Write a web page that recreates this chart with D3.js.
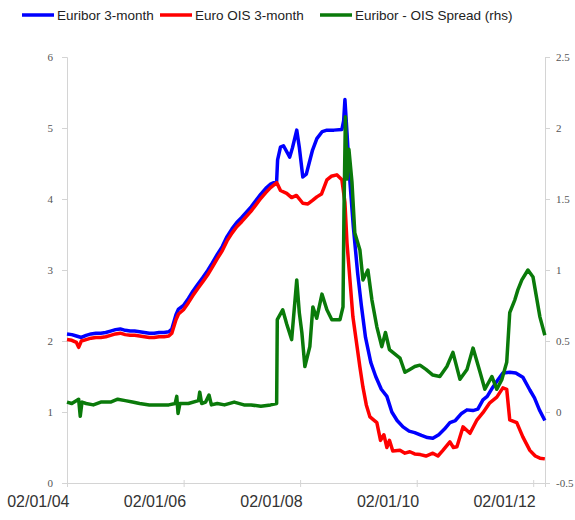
<!DOCTYPE html>
<html>
<head>
<meta charset="utf-8">
<script src="https://cdn.jsdelivr.net/npm/d3@7/dist/d3.min.js"></script>
<style>
  body { margin: 0; background: #fff; }
</style>
</head>
<body>
<div id="chart"></div>
<script>
// Euribor 3-month (lhs), %
var euribor = [
  ['2004-01-02', 2.10], ['2004-02-01', 2.09], ['2004-03-01', 2.07], ['2004-04-01', 2.05],
  ['2004-05-01', 2.08], ['2004-06-01', 2.10], ['2004-07-01', 2.11], ['2004-08-01', 2.11],
  ['2004-09-01', 2.12], ['2004-10-01', 2.14], ['2004-11-01', 2.16], ['2004-12-01', 2.17],
  ['2005-01-01', 2.15], ['2005-02-01', 2.14], ['2005-03-01', 2.14], ['2005-04-01', 2.13],
  ['2005-05-01', 2.12], ['2005-06-01', 2.11], ['2005-07-01', 2.11], ['2005-08-01', 2.12],
  ['2005-09-01', 2.12], ['2005-10-01', 2.13], ['2005-10-20', 2.17], ['2005-11-15', 2.37],
  ['2005-12-01', 2.45], ['2006-01-01', 2.50], ['2006-02-01', 2.60], ['2006-03-01', 2.70],
  ['2006-04-01', 2.80], ['2006-05-01', 2.89], ['2006-06-01', 2.99], ['2006-07-01', 3.10],
  ['2006-08-01', 3.22], ['2006-09-01', 3.33], ['2006-10-01', 3.47], ['2006-11-01', 3.58],
  ['2006-12-01', 3.67], ['2007-01-01', 3.74], ['2007-02-01', 3.82], ['2007-03-01', 3.89],
  ['2007-04-01', 3.98], ['2007-05-01', 4.07], ['2007-06-01', 4.15], ['2007-07-01', 4.21],
  ['2007-08-08', 4.25], ['2007-08-14', 4.55], ['2007-09-01', 4.73], ['2007-09-20', 4.75],
  ['2007-10-29', 4.59], ['2007-11-15', 4.72], ['2007-12-12', 4.97], ['2007-12-28', 4.73],
  ['2008-01-19', 4.31], ['2008-02-10', 4.35], ['2008-03-20', 4.69], ['2008-04-16', 4.85],
  ['2008-05-20', 4.95], ['2008-06-18', 4.97], ['2008-08-01', 4.97], ['2008-09-20', 4.98],
  ['2008-10-01', 5.10], ['2008-10-09', 5.40], ['2008-10-22', 4.93], ['2008-11-09', 4.25],
  ['2008-12-01', 3.60], ['2008-12-28', 2.95], ['2009-01-20', 2.50], ['2009-02-15', 2.05],
  ['2009-03-20', 1.70], ['2009-04-20', 1.50], ['2009-05-25', 1.32], ['2009-06-29', 1.22],
  ['2009-07-30', 1.00], ['2009-09-01', 0.88], ['2009-10-08', 0.79], ['2009-11-15', 0.73],
  ['2009-12-20', 0.71], ['2010-02-01', 0.67], ['2010-03-10', 0.64], ['2010-04-13', 0.63],
  ['2010-05-20', 0.68], ['2010-06-25', 0.76], ['2010-07-29', 0.85], ['2010-09-01', 0.88],
  ['2010-10-10', 0.98], ['2010-11-13', 1.03], ['2010-12-20', 1.02], ['2011-01-20', 1.04],
  ['2011-02-21', 1.17], ['2011-03-20', 1.22], ['2011-04-24', 1.35], ['2011-05-25', 1.45],
  ['2011-06-26', 1.55], ['2011-08-08', 1.56], ['2011-09-15', 1.55], ['2011-10-29', 1.49],
  ['2011-12-12', 1.31], ['2012-01-10', 1.20], ['2012-02-10', 1.03], ['2012-03-15', 0.88]
];

// Euro OIS 3-month (lhs), %
var ois = [
  ['2004-01-02', 2.02], ['2004-02-01', 2.01], ['2004-03-01', 1.98], ['2004-03-15', 1.91],
  ['2004-04-01', 2.00], ['2004-05-01', 2.02], ['2004-06-01', 2.04], ['2004-07-01', 2.05],
  ['2004-08-01', 2.05], ['2004-09-01', 2.06], ['2004-10-01', 2.08], ['2004-11-01', 2.10],
  ['2004-12-01', 2.11], ['2005-01-01', 2.09], ['2005-02-01', 2.08], ['2005-03-01', 2.08],
  ['2005-04-01', 2.07], ['2005-05-01', 2.06], ['2005-06-01', 2.05], ['2005-07-01', 2.05],
  ['2005-08-01', 2.06], ['2005-09-01', 2.06], ['2005-10-01', 2.07], ['2005-10-20', 2.11],
  ['2005-11-15', 2.30], ['2005-12-01', 2.38], ['2006-01-01', 2.44], ['2006-02-01', 2.54],
  ['2006-03-01', 2.64], ['2006-04-01', 2.74], ['2006-05-01', 2.83], ['2006-06-01', 2.93],
  ['2006-07-01', 3.04], ['2006-08-01', 3.16], ['2006-09-01', 3.27], ['2006-10-01', 3.41],
  ['2006-11-01', 3.52], ['2006-12-01', 3.61], ['2007-01-01', 3.68], ['2007-02-01', 3.76],
  ['2007-03-01', 3.83], ['2007-04-01', 3.92], ['2007-05-01', 4.01], ['2007-06-01', 4.09],
  ['2007-07-01', 4.16], ['2007-08-09', 4.23], ['2007-09-01', 4.12], ['2007-10-10', 4.08],
  ['2007-11-10', 4.02], ['2007-12-10', 4.05], ['2008-01-19', 3.94], ['2008-02-20', 3.93],
  ['2008-03-20', 3.98], ['2008-04-16', 4.03], ['2008-05-15', 4.07], ['2008-06-18', 4.27],
  ['2008-07-15', 4.32], ['2008-08-19', 4.34], ['2008-09-20', 4.27], ['2008-10-09', 3.95],
  ['2008-10-22', 3.38], ['2008-11-28', 2.34], ['2009-01-11', 1.63], ['2009-01-30', 1.35],
  ['2009-02-20', 1.10], ['2009-03-15', 0.93], ['2009-04-27', 0.85], ['2009-05-20', 0.60],
  ['2009-06-10', 0.68], ['2009-06-29', 0.50], ['2009-07-15', 0.60], ['2009-08-05', 0.45],
  ['2009-09-19', 0.46], ['2009-10-20', 0.42], ['2009-11-20', 0.44], ['2009-12-20', 0.41],
  ['2010-01-25', 0.40], ['2010-03-01', 0.38], ['2010-04-13', 0.42], ['2010-05-15', 0.38],
  ['2010-06-15', 0.46], ['2010-07-29', 0.58], ['2010-08-20', 0.50], ['2010-09-11', 0.51],
  ['2010-10-19', 0.79], ['2010-12-02', 0.70], ['2011-01-15', 0.89], ['2011-02-21', 0.99],
  ['2011-04-05', 1.13], ['2011-05-19', 1.21], ['2011-06-26', 1.34], ['2011-07-20', 1.32],
  ['2011-08-08', 0.89], ['2011-09-21', 0.85], ['2011-10-29', 0.65], ['2011-12-12', 0.46],
  ['2012-01-15', 0.38], ['2012-02-13', 0.35], ['2012-03-15', 0.34]
];

// Euribor - OIS spread (rhs), %
var spread = [
  ['2004-01-02', 0.07], ['2004-02-01', 0.06], ['2004-03-15', 0.09], ['2004-03-25', -0.03],
  ['2004-04-05', 0.07], ['2004-05-01', 0.06], ['2004-06-15', 0.05], ['2004-08-01', 0.07],
  ['2004-10-01', 0.07], ['2004-11-15', 0.09], ['2005-01-01', 0.08], ['2005-02-15', 0.07],
  ['2005-04-01', 0.06], ['2005-06-01', 0.05], ['2005-08-01', 0.05], ['2005-10-01', 0.05],
  ['2005-11-10', 0.06], ['2005-11-20', 0.11], ['2005-11-28', -0.01], ['2005-12-10', 0.06],
  ['2006-02-01', 0.06], ['2006-04-05', 0.08], ['2006-04-13', 0.14], ['2006-04-25', 0.06],
  ['2006-05-20', 0.07], ['2006-06-10', 0.12], ['2006-06-25', 0.05], ['2006-08-01', 0.06],
  ['2006-09-15', 0.05], ['2006-11-15', 0.07], ['2007-01-15', 0.05], ['2007-03-01', 0.05],
  ['2007-05-01', 0.04], ['2007-07-01', 0.05], ['2007-08-08', 0.06], ['2007-08-12', 0.65],
  ['2007-09-15', 0.72], ['2007-10-10', 0.62], ['2007-11-10', 0.51], ['2007-12-12', 0.93],
  ['2007-12-28', 0.70], ['2008-01-13', 0.56], ['2008-02-01', 0.32], ['2008-03-03', 0.46],
  ['2008-03-22', 0.74], ['2008-04-15', 0.66], ['2008-05-18', 0.83], ['2008-06-18', 0.72],
  ['2008-07-19', 0.65], ['2008-09-08', 0.65], ['2008-09-27', 0.74], ['2008-10-03', 1.41],
  ['2008-10-12', 2.08], ['2008-10-22', 1.64], ['2008-11-03', 1.85], ['2008-11-22', 1.62],
  ['2008-12-10', 1.26], ['2009-01-11', 1.14], ['2009-01-30', 0.93], ['2009-03-02', 1.00],
  ['2009-03-27', 0.79], ['2009-04-27', 0.60], ['2009-05-28', 0.46], ['2009-06-20', 0.56],
  ['2009-07-15', 0.44], ['2009-09-19', 0.38], ['2009-10-20', 0.28], ['2009-11-20', 0.30],
  ['2009-12-21', 0.32], ['2010-01-22', 0.33], ['2010-03-01', 0.30], ['2010-04-13', 0.26],
  ['2010-05-27', 0.25], ['2010-07-10', 0.32], ['2010-08-17', 0.42], ['2010-09-30', 0.23],
  ['2010-11-13', 0.30], ['2010-12-21', 0.45], ['2011-02-03', 0.28], ['2011-03-05', 0.16],
  ['2011-04-18', 0.25], ['2011-05-19', 0.16], ['2011-06-20', 0.23], ['2011-07-20', 0.35],
  ['2011-08-08', 0.70], ['2011-09-09', 0.79], ['2011-09-28', 0.86], ['2011-10-23', 0.93],
  ['2011-11-30', 1.00], ['2012-01-01', 0.95], ['2012-02-13', 0.67], ['2012-03-15', 0.54]
];

var legend_labels = ['Euribor 3-month', 'Euro OIS 3-month', 'Euribor - OIS Spread (rhs)'];
var left_ticks = [0, 1, 2, 3, 4, 5, 6];
var right_ticks = [-0.5, 0, 0.5, 1, 1.5, 2, 2.5];
var date_ticks = ['2004-01-02', '2006-01-02', '2008-01-02', '2010-01-02', '2012-01-02'];

var chart_width = 575;
var chart_height = 520;
var plot_left = 67, plot_right = 545, plot_top = 57, plot_bottom = 483;

var parse = d3.timeParse('%Y-%m-%d');
var date_format = d3.timeFormat('%d/%m/%y');

var svg = d3.select('#chart')
  .append('svg')
  .attr('width', chart_width)
  .attr('height', chart_height);

var x_scale = d3.scaleTime()
  .domain([parse('2004-01-02'), parse('2012-03-16')])
  .range([plot_left, plot_right]);

var y_left = d3.scaleLinear().domain([0, 6]).range([plot_bottom, plot_top]);
var y_right = d3.scaleLinear().domain([-0.5, 2.5]).range([plot_bottom, plot_top]);

// axes
var axis_color = '#d4d4d4';

var left_axis = svg.append('g')
  .attr('transform', 'translate(' + plot_left + ',0)')
  .call(d3.axisLeft(y_left).tickValues(left_ticks).tickSize(5).tickPadding(9).tickFormat(d3.format('d')));

var right_axis = svg.append('g')
  .attr('transform', 'translate(' + plot_right + ',0)')
  .call(d3.axisRight(y_right).tickValues(right_ticks).tickSize(5).tickPadding(6).tickFormat(function(d){ return String(d); }));

var bottom_axis = svg.append('g')
  .attr('transform', 'translate(0,' + plot_bottom + ')')
  .call(d3.axisBottom(x_scale).tickValues(date_ticks.map(parse)).tickSize(4).tickFormat(date_format));

[left_axis, right_axis].forEach(function(g){
  g.select('.domain').attr('stroke', axis_color);
  g.selectAll('.tick line').attr('stroke', axis_color);
  g.selectAll('.tick text')
    .attr('fill', '#555')
    .style('font-family', '"Liberation Serif", "Times New Roman", serif')
    .style('font-size', '11px');
});

bottom_axis.select('.domain').attr('stroke', axis_color);
bottom_axis.selectAll('.tick line').attr('stroke', axis_color).attr('y1', -3);
bottom_axis.selectAll('.tick text')
  .attr('fill', '#333')
  .attr('text-anchor', 'end')
  .attr('x', 2)
  .attr('y', 13)
  .attr('dy', '0.71em')
  .style('font-family', '"Liberation Sans", Arial, sans-serif')
  .style('font-size', '16px');

// lines
var series = [
  { data: euribor, scale: y_left, color: '#0000ff' },
  { data: ois, scale: y_left, color: '#ff0000' },
  { data: spread, scale: y_right, color: '#0a7a0a' }
];

series.forEach(function(s){
  var line = d3.line()
    .x(function(d){ return x_scale(parse(d[0])); })
    .y(function(d){ return s.scale(d[1]); });

  svg.append('path')
    .datum(s.data)
    .attr('d', line)
    .attr('fill', 'none')
    .attr('stroke', s.color)
    .attr('stroke-width', 3.5)
    .attr('stroke-linejoin', 'round');
});

// legend
var legend_x = [22, 160, 320];
var legend = svg.append('g');

legend_labels.forEach(function(label, i){
  legend.append('line')
    .attr('x1', legend_x[i])
    .attr('x2', legend_x[i] + 32)
    .attr('y1', 15)
    .attr('y2', 15)
    .attr('stroke', series[i].color)
    .attr('stroke-width', 3.5);

  legend.append('text')
    .attr('x', legend_x[i] + 35)
    .attr('y', 15)
    .attr('dy', '0.35em')
    .style('font-family', '"Liberation Sans", Arial, sans-serif')
    .style('font-size', '13.5px')
    .attr('fill', '#222')
    .text(label);
});
</script>
</body>
</html>
